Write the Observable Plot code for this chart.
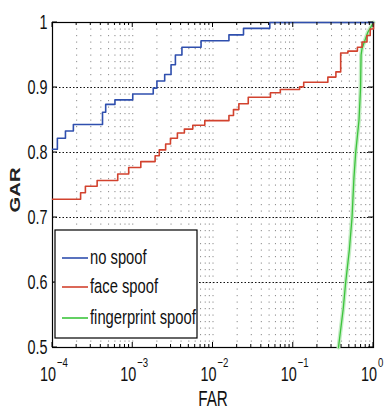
<!DOCTYPE html>
<html>
<head>
<meta charset="utf-8">
<script src="https://cdn.jsdelivr.net/npm/d3@7"></script>
<script src="https://cdn.jsdelivr.net/npm/@observablehq/plot@0.6"></script>
<style>
  html, body { margin: 0; padding: 0; background: white; }
  #chart svg { display: block; }
</style>
</head>
<body>
<div id="chart"></div>
<script>
// ---- data ----
const seriesNames = ["no spoof", "face spoof", "fingerprint spoof"];
const seriesColors = ["#2f4fae", "#d2422e", "#3cc43c"];

const blueFAR = [1e-4, 1.15e-4, 1.45e-4, 1.82e-4, 4.2e-4, 4.6e-4, 6.0e-4, 1.0e-3, 1.8e-3, 2.0e-3, 2.5e-3, 3.0e-3, 3.4e-3, 4.1e-3, 7.1e-3, 0.0158, 0.024, 0.051, 1];
const blueGAR = [0.805, 0.822, 0.833, 0.843, 0.862, 0.874, 0.881, 0.890, 0.899, 0.910, 0.920, 0.935, 0.950, 0.962, 0.972, 0.981, 0.991, 1.0, 1.0];

const redFAR = [1e-4, 2.24e-4, 2.57e-4, 3.6e-4, 6.5e-4, 8.9e-4, 1.26e-3, 1.9e-3, 2.14e-3, 2.57e-3, 2.95e-3, 3.6e-3, 4.4e-3, 5.6e-3, 7.9e-3, 0.0158, 0.018, 0.021, 0.0275, 0.052, 0.069, 0.12, 0.135, 0.27, 0.34, 0.39, 0.48, 0.63, 0.72, 0.83, 0.91, 1];
const redGAR = [0.728, 0.738, 0.748, 0.757, 0.767, 0.777, 0.786, 0.795, 0.804, 0.813, 0.822, 0.830, 0.836, 0.842, 0.849, 0.857, 0.866, 0.875, 0.885, 0.892, 0.897, 0.901, 0.908, 0.916, 0.924, 0.953, 0.956, 0.962, 0.970, 0.980, 0.990, 1.0];

const greenFAR = [0.366, 0.42, 0.45, 0.50, 0.54, 0.57, 0.60, 0.66, 0.69, 0.70, 0.72, 0.85, 1.0];
const greenGAR = [0.50, 0.56, 0.60, 0.65, 0.70, 0.76, 0.80, 0.85, 0.90, 0.95, 0.96, 0.985, 1.0];

const yTicks = [0.5, 0.6, 0.7, 0.8, 0.9, 1];
const yTickLabels = ["0.5", "0.6", "0.7", "0.8", "0.9", "1"];
const xTicks = [1e-4, 1e-3, 1e-2, 1e-1, 1];
const xExponents = ["\u22124", "\u22123", "\u22122", "\u22121", "0"];
const xLabel = "FAR";
const yLabel = "GAR";

// ---- tables ----
const toRows = (xs, ys) => xs.map((f, i) => ({far: f, gar: ys[i]}));
const blue = toRows(blueFAR, blueGAR);
const red = toRows(redFAR, redGAR);
const green = toRows(greenFAR, greenGAR);

const minor = [];
for (let k = -4; k <= -1; k++) for (let m = 2; m <= 9; m++) minor.push(m * Math.pow(10, k));

const font = "'Liberation Sans', Arial, sans-serif";
const SQ = "scale(0.8,1.12)"; // narrow, tall look of the reference text

const plot = Plot.plot({
  width: 384,
  height: 419,
  marginLeft: 52,
  marginRight: 11,
  marginTop: 22,
  marginBottom: 72,
  style: {fontFamily: font, fontSize: "18px", background: "white", color: "black"},
  x: {type: "log", domain: [1e-4, 1], axis: null},
  y: {domain: [0.5, 1], axis: null},
  marks: [
    Plot.ruleX(minor, {stroke: "#8a8a8a", strokeDasharray: "1.2,5.3"}),
    Plot.ruleX(xTicks.slice(1, -1), {stroke: "#8a8a8a", strokeDasharray: "1.2,5.3"}),
    Plot.ruleY(yTicks.slice(1, -1), {stroke: "#111", strokeDasharray: "1.5,2"}),
    Plot.frame({stroke: "black", strokeWidth: 1.2}),
    Plot.line(green, {x: "far", y: "gar", stroke: "#c4ecc4", strokeWidth: 4}),
    Plot.line(green, {x: "far", y: "gar", stroke: seriesColors[2], strokeWidth: 1.3}),
    Plot.line(red, {x: "far", y: "gar", curve: "step-after", stroke: seriesColors[1], strokeWidth: 1.6}),
    Plot.line(blue, {x: "far", y: "gar", curve: "step-after", stroke: seriesColors[0], strokeWidth: 1.6}),
    Plot.text(yTicks, {y: d => d, frameAnchor: "left", dx: -5, dy: 0, textAnchor: "end", text: (d, i) => yTickLabels[i], fill: "#111"}),
    Plot.text(xTicks, {x: d => d, frameAnchor: "bottom", dy: 33, dx: -4.5, lineAnchor: "bottom", text: () => "10", fill: "#111"}),
    Plot.text(xTicks, {x: d => d, frameAnchor: "bottom", dy: 19, dx: 4.5, textAnchor: "start", lineAnchor: "bottom", fontSize: 12, text: (d, i) => xExponents[i], fill: "#111"}),
    Plot.text([xLabel], {frameAnchor: "bottom", dy: 58, lineAnchor: "bottom", fontSize: 19, text: d => d, fill: "#111"})
  ]
});

document.getElementById("chart").appendChild(plot);

const svg = d3.select(plot);

// squeeze the Plot texts around their anchor
svg.selectAll("text").each(function() {
  const t = this.getAttribute("transform");
  if (t) {
    this.setAttribute("transform", t + " " + SQ);
  } else {
    const x = +(this.getAttribute("x") || 0), y = +(this.getAttribute("y") || 0);
    this.removeAttribute("x"); this.removeAttribute("y");
    this.setAttribute("transform", `translate(${x},${y}) ${SQ}`);
  }
});

// ---- inward ticks, y label, legend ----
const xs = plot.scale("x"), ys = plot.scale("y");
const L = 52, R = 373, T = 22, B = 347;
const g = svg.append("g").attr("stroke", "black").attr("stroke-width", 1);
minor.forEach(v => {
  const x = xs.apply(v);
  g.append("line").attr("x1", x).attr("x2", x).attr("y1", B).attr("y2", B - 3);
  g.append("line").attr("x1", x).attr("x2", x).attr("y1", T).attr("y2", T + 3);
});
xTicks.forEach(v => {
  const x = xs.apply(v);
  g.append("line").attr("x1", x).attr("x2", x).attr("y1", B).attr("y2", B - 5);
  g.append("line").attr("x1", x).attr("x2", x).attr("y1", T).attr("y2", T + 5);
});
yTicks.forEach(v => {
  const y = ys.apply(v);
  g.append("line").attr("x1", L).attr("x2", L + 5).attr("y1", y).attr("y2", y);
  g.append("line").attr("x1", R).attr("x2", R - 5).attr("y1", y).attr("y2", y);
});

svg.append("text")
  .attr("transform", "translate(16,190) rotate(-90) scale(1.45,1)")
  .attr("text-anchor", "middle")
  .attr("dominant-baseline", "middle")
  .attr("font-family", font)
  .attr("font-weight", "bold")
  .attr("font-size", 14)
  .attr("fill", "#222")
  .text(yLabel);

const lg = svg.append("g");
lg.append("rect").attr("x", 55).attr("y", 230).attr("width", 142).attr("height", 108)
  .attr("fill", "white").attr("stroke", "black").attr("stroke-width", 1.2);
const rowsY = [258, 287, 318];
seriesNames.forEach((name, i) => {
  lg.append("line").attr("x1", 62).attr("x2", 88).attr("y1", rowsY[i]).attr("y2", rowsY[i])
    .attr("stroke", seriesColors[i]).attr("stroke-width", 1.6);
  lg.append("text").attr("transform", `translate(90,${rowsY[i] + 6}) scale(0.82,1.08)`)
    .attr("text-anchor", "start")
    .attr("font-family", font).attr("font-size", 18).attr("fill", "#111").text(name);
});
</script>
</body>
</html>
